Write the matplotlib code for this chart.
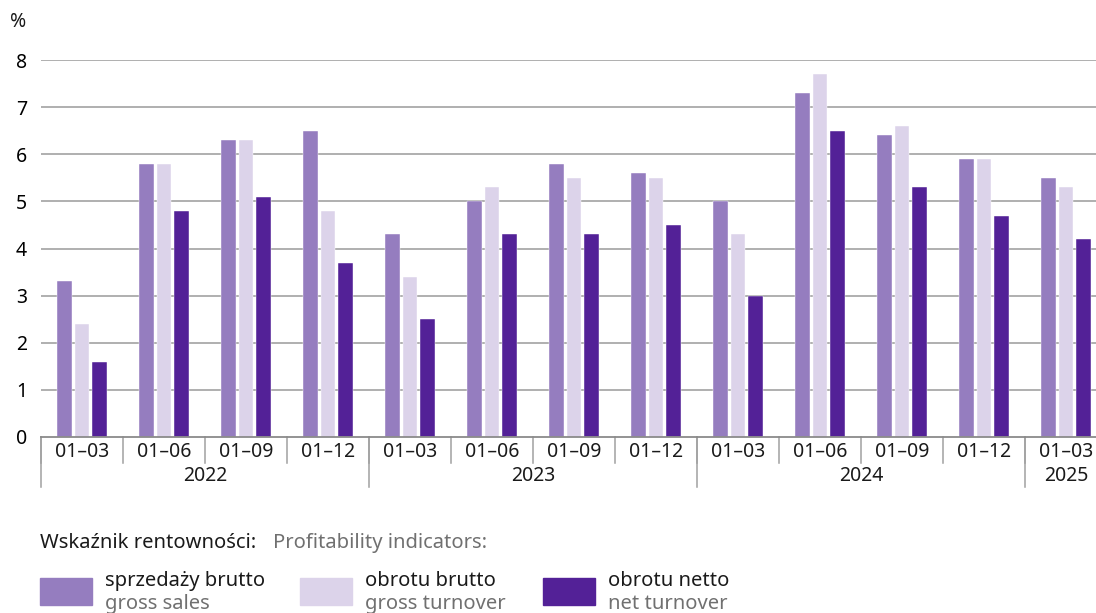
import numpy as np
import matplotlib.pyplot as plt
import matplotlib.transforms as mtransforms
from matplotlib.patches import Rectangle

plt.rcParams['font.family'] = ['Noto Sans', 'DejaVu Sans']

months = ["01–03", "01–06", "01–09", "01–12",
          "01–03", "01–06", "01–09", "01–12",
          "01–03", "01–06", "01–09", "01–12",
          "01–03"]
years = ["2022", "2023", "2024", "2025"]
year_span = [4, 4, 4, 1]

gross_sales = [3.3, 5.8, 6.3, 6.5, 4.3, 5.0, 5.8, 5.6, 5.0, 7.3, 6.4, 5.9, 5.5]
gross_turnover = [2.4, 5.8, 6.3, 4.8, 3.4, 5.3, 5.5, 5.5, 4.3, 7.7, 6.6, 5.9, 5.3]
net_turnover = [1.6, 4.8, 5.1, 3.7, 2.5, 4.3, 4.3, 4.5, 3.0, 6.5, 5.3, 4.7, 4.2]

series_pl = ["sprzedaży brutto", "obrotu brutto", "obrotu netto"]
series_en = ["gross sales", "gross turnover", "net turnover"]
colors = ["#957dbf", "#dcd3ea", "#532197"]

W, H = 1096, 613
fig = plt.figure(figsize=(W / 100, H / 100), dpi=100)
# axes: x from 41px, y zero at 437px, 8 at 60px
ax = fig.add_axes([41 / W, (H - 437) / H, 1 - 41 / W, 377 / H])

x = np.arange(len(months))
bw = 0.175
off = 0.215
for k, vals in enumerate([gross_sales, gross_turnover, net_turnover]):
    ax.bar(x + (k - 1) * off, vals, width=bw, color=colors[k],
           edgecolor="white", linewidth=0.3, zorder=3)

ax.set_xlim(-0.5, (W - 41) / 82 - 0.5)
ax.set_ylim(0, 8)
ax.set_yticks(range(0, 9))
for y in range(1, 9):
    ax.axhline(y, color="#9a9a9a", linewidth=1.1, zorder=1)
ax.axhline(0, color="#8a8a8a", linewidth=1.3, zorder=4, clip_on=False)

for s in ax.spines.values():
    s.set_visible(False)
ax.set_xticks([])
ax.tick_params(axis="y", length=0, labelsize=14, pad=14)
for lab in ax.get_yticklabels():
    lab.set_horizontalalignment("center")

trans = mtransforms.blended_transform_factory(ax.transData, ax.transAxes)
ph = 1 / 377.0

# month separators and labels
for i, m in enumerate(months):
    ax.plot([i - 0.5, i - 0.5], [0, -26 * ph], color="#a0a0a0",
            linewidth=1.1, transform=trans, clip_on=False)
    ax.text(i, -15 * ph, m, transform=trans, ha="center", va="center",
            fontsize=14, color="#1a1a1a")

# year separators and labels
start = 0
for yr, n in zip(years, year_span):
    ax.plot([start - 0.5, start - 0.5], [0, -50 * ph], color="#a0a0a0",
            linewidth=1.1, transform=trans, clip_on=False)
    ax.text(start + (n - 1) / 2, -39 * ph, yr, transform=trans,
            ha="center", va="center", fontsize=14, color="#1a1a1a")
    start += n

fig.text(10 / W, 1 - 22 / H, "%", fontsize=14, ha="left", va="center",
         color="#1a1a1a")

# legend
fig.text(40 / W, 1 - 543 / H, "Wskaźnik rentowności:", fontsize=14.5,
         ha="left", va="center", color="#1a1a1a")
fig.text(273 / W, 1 - 543 / H, "Profitability indicators:", fontsize=14.5,
         ha="left", va="center", color="#707070")
patch_x = [40, 300, 543]
for k in range(3):
    px = patch_x[k]
    fig.patches.append(Rectangle((px / W, 1 - 605 / H), 52 / W, 27 / H,
                                 transform=fig.transFigure,
                                 color=colors[k]))
    fig.text((px + 65) / W, 1 - 581 / H, series_pl[k], fontsize=14.5,
             ha="left", va="center", color="#1a1a1a")
    fig.text((px + 65) / W, 1 - 604 / H, series_en[k], fontsize=14.5,
             ha="left", va="center", color="#707070")

fig.savefig("out.png", dpi=100)
